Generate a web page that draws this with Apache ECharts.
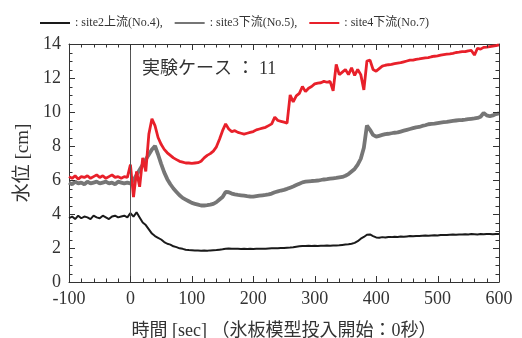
<!DOCTYPE html>
<html>
<head>
<meta charset="utf-8">
<script src="https://cdn.jsdelivr.net/npm/echarts@6/dist/echarts.min.js"></script>
<style>
  html, body { margin: 0; padding: 0; background: #fff; }
  #chart { width: 522px; height: 338px; }
</style>
</head>
<body>
<div id="chart"></div>
<script>
  // 時間軸（5秒ごと）
  const time = []
  for (let t = -100; t <= 600; t += 5) time.push(t)

  const seriesNames = ['site2上流(No.4)', 'site3下流(No.5)', 'site4下流(No.7)']

  // site2 上流 (No.4)
  const site2 = [
    3.75, 3.85, 3.7, 3.9, 3.75, 3.85, 3.8, 3.7, 3.9, 3.8,
    3.75, 3.9, 3.8, 3.7, 3.85, 3.9, 3.8, 3.85, 3.9, 3.8,
    4.05, 3.85, 4.1, 3.8, 3.5, 3.35, 3.1, 2.85, 2.7, 2.6,
    2.5, 2.35, 2.25, 2.2, 2.1, 2.05, 1.98, 1.95, 1.9, 1.88,
    1.87, 1.86, 1.85, 1.84, 1.85, 1.84, 1.86, 1.87, 1.88, 1.9,
    1.92, 1.95, 1.97, 1.95, 1.96, 1.95, 1.94, 1.95, 1.94, 1.95,
    1.94, 1.95, 1.96, 1.95, 1.96, 1.97, 1.98, 1.98, 1.99, 2.0,
    2.0, 2.02, 2.03, 2.05, 2.08, 2.1, 2.12, 2.12, 2.13, 2.12,
    2.13, 2.12, 2.13, 2.13, 2.14, 2.13, 2.14, 2.15, 2.16, 2.18,
    2.2, 2.22, 2.25, 2.3, 2.4, 2.55, 2.65, 2.78, 2.8, 2.7,
    2.62, 2.6, 2.64, 2.62, 2.65, 2.64, 2.66, 2.65, 2.67, 2.66,
    2.68, 2.7, 2.69, 2.71, 2.7, 2.72, 2.73, 2.72, 2.74, 2.75,
    2.74, 2.76, 2.77, 2.76, 2.78, 2.79, 2.78, 2.8, 2.79, 2.81,
    2.8, 2.82, 2.81, 2.8, 2.82, 2.81, 2.83, 2.82, 2.81, 2.83,
    2.82
  ]

  // site3 下流 (No.5)
  const site3 = [
    5.85, 5.75, 5.9, 5.8, 5.85, 5.75, 5.9, 5.8, 5.85, 5.9,
    5.8, 5.85, 5.9, 5.8, 5.85, 5.75, 5.9, 5.85, 5.8, 5.85,
    5.8, 6.0, 6.3, 6.6, 6.9, 7.2, 7.5, 7.8, 8.0, 7.5,
    6.95, 6.45, 6.05, 5.75, 5.5, 5.3, 5.1, 4.95, 4.85, 4.75,
    4.65, 4.6, 4.55, 4.5, 4.5, 4.52, 4.55, 4.6, 4.7, 4.85,
    5.0, 5.3, 5.28, 5.2, 5.15, 5.12, 5.1, 5.08, 5.05, 5.03,
    5.02, 5.05, 5.08, 5.1, 5.12, 5.15, 5.2, 5.28, 5.33, 5.38,
    5.42, 5.48, 5.55, 5.62, 5.7, 5.78, 5.86, 5.9, 5.92, 5.94,
    5.95, 5.97, 6.0, 6.03, 6.05, 6.08, 6.1, 6.12, 6.15, 6.18,
    6.25, 6.35, 6.5, 6.65, 6.9, 7.25, 7.9, 9.2, 8.95, 8.65,
    8.55, 8.6, 8.65, 8.7, 8.72, 8.75, 8.78, 8.8, 8.85, 8.9,
    8.95, 9.0, 9.05, 9.1, 9.12, 9.18, 9.22, 9.28, 9.3, 9.32,
    9.35, 9.38, 9.4, 9.42, 9.45, 9.48, 9.5, 9.52, 9.53, 9.55,
    9.58, 9.6, 9.62, 9.65, 9.72, 9.95, 9.8, 9.75, 9.8, 9.88,
    9.92
  ]

  // site4 下流 (No.7)
  const site4 = [
    6.2, 6.1, 6.25, 6.05, 6.2, 6.15, 6.25, 6.1, 6.2, 6.3,
    6.15, 6.25, 6.1, 6.2, 6.3, 6.15, 6.2, 6.1, 6.2, 6.15,
    6.9, 5.0, 6.5, 5.6, 7.3, 6.5, 8.7, 9.6, 9.2, 8.5,
    8.1, 7.8, 7.6, 7.45, 7.3, 7.2, 7.1, 7.05, 7.0, 7.0,
    6.98, 7.0, 7.02, 7.1, 7.3, 7.45, 7.55, 7.7, 7.95, 8.4,
    8.9, 9.3, 9.0, 8.85, 8.9, 8.8, 8.75, 8.7, 8.75, 8.8,
    8.85, 8.95, 9.0, 9.05, 9.1, 9.2, 9.3, 9.7, 9.5, 9.45,
    9.4, 9.35, 11.0, 10.6, 10.95, 11.1, 11.5, 11.2, 11.4, 11.5,
    11.65, 11.7, 11.72, 11.8, 11.75, 11.8, 11.25, 12.8, 12.2, 12.35,
    12.5, 12.2, 12.6, 12.15, 12.5, 12.2, 11.3, 13.0, 13.05, 12.5,
    12.4, 12.55, 12.7, 12.75, 12.78, 12.8, 12.85, 12.88, 12.9, 12.95,
    13.0, 13.05, 13.05, 13.1, 13.12, 13.15, 13.18, 13.2, 13.25, 13.28,
    13.3, 13.35, 13.38, 13.4, 13.42, 13.45, 13.5, 13.52, 13.55, 13.55,
    13.6, 13.62, 13.35, 13.75, 13.7, 13.8, 13.82, 13.85, 13.88, 13.9,
    13.95
  ]

  // 目盛り位置（x: 20秒ごと、y: 0.5cmごと）
  const xTicks = []
  for (let v = -80; v < 600; v += 20) xTicks.push(v)
  const yTicks = []
  for (let v = 0.5; v < 14; v += 0.5) yTicks.push(v)

  const colors = ['#1a1a1a', '#767676', '#e8202a']
  const widths = [2, 3.8, 2.8]
  const serif = '"Liberation Serif", "Noto Sans CJK JP", serif'

  const pairs = (values) => time.map((t, i) => [t, values[i]])

  const makeAxis = (min, max, interval) => ({
    type: 'value',
    min: min,
    max: max,
    interval: interval,
    splitLine: { show: false },
    axisLine: { show: true, onZero: false, lineStyle: { color: '#333' } },
    axisTick: { show: false }
  })

  const tickLine = (x1, y1, x2, y2) => ({
    type: 'line',
    shape: { x1: x1, y1: y1, x2: x2, y2: y2 },
    style: { stroke: '#333', lineWidth: 1 }
  })

  // 上下の内向き目盛り
  const renderXTick = (params, api) => {
    const v = api.value(0)
    const len = v % 100 === 0 ? 6 : 3.5
    const bottom = api.coord([v, 0])
    const top = api.coord([v, 14])
    const x = Math.round(bottom[0]) + 0.5
    return {
      type: 'group',
      children: [
        tickLine(x, bottom[1], x, bottom[1] - len),
        tickLine(x, top[1], x, top[1] + len)
      ]
    }
  }

  // 左右の内向き目盛り
  const renderYTick = (params, api) => {
    const v = api.value(1)
    const len = v % 2 === 0 ? 6 : 3.5
    const left = api.coord([-100, v])
    const right = api.coord([600, v])
    const y = Math.round(left[1]) + 0.5
    return {
      type: 'group',
      children: [
        tickLine(left[0], y, left[0] + len, y),
        tickLine(right[0], y, right[0] - len, y)
      ]
    }
  }

  const chart = echarts.init(document.getElementById('chart'))
  chart.setOption({
    animation: false,
    legend: {
      top: 12,
      left: 35,
      icon: 'rect',
      itemWidth: 30,
      itemHeight: 2,
      itemGap: 12,
      data: seriesNames.map((name, i) => ({
        name: name,
        itemStyle: { color: colors[i] }
      })),
      formatter: (name) => ': ' + name + (name === seriesNames[2] ? '' : ','),
      textStyle: { fontSize: 12, color: '#333', fontFamily: serif }
    },
    grid: { left: 69, right: 23, top: 44, bottom: 56, outerBoundsMode: 'none' },
    xAxis: [
      {
        ...makeAxis(-100, 600, 100),
        name: '時間 [sec] （氷板模型投入開始：0秒）',
        nameLocation: 'middle',
        nameGap: 40,
        nameTextStyle: { fontSize: 18, color: '#333', fontFamily: serif },
        axisLabel: { fontSize: 18, color: '#333', margin: 8, fontFamily: serif }
      },
      { ...makeAxis(-100, 600, 100), position: 'top', axisLabel: { show: false } }
    ],
    yAxis: [
      {
        ...makeAxis(0, 14, 2),
        name: '水位 [cm]',
        nameLocation: 'middle',
        nameGap: 36,
        nameTextStyle: { fontSize: 19, color: '#333', fontFamily: serif },
        axisLabel: { fontSize: 18, color: '#333', margin: 8, fontFamily: serif }
      },
      { ...makeAxis(0, 14, 2), position: 'right', axisLabel: { show: false } }
    ],
    graphic: [
      {
        type: 'text',
        left: 142,
        top: 60,
        style: {
          text: '実験ケース ： 11',
          fontSize: 18,
          fill: '#333',
          fontFamily: serif
        }
      }
    ],
    series: [
      ...[0, 1, 2].map((i) => ({
        name: seriesNames[i],
        type: 'line',
        symbol: 'none',
        data: pairs([site2, site3, site4][i]),
        lineStyle: { width: widths[i], color: colors[i] },
        itemStyle: { color: colors[i] },
        // 氷板投入時刻の縦線
        markLine: i === 0 ? {
          silent: true,
          symbol: 'none',
          label: { show: false },
          lineStyle: { color: '#555', width: 1, type: 'solid' },
          data: [{ xAxis: 0 }]
        } : undefined
      })),
      {
        type: 'custom',
        silent: true,
        clip: false,
        z: 5,
        renderItem: renderXTick,
        data: xTicks.map((v) => [v, 0])
      },
      {
        type: 'custom',
        silent: true,
        clip: false,
        z: 5,
        renderItem: renderYTick,
        data: yTicks.map((v) => [-100, v])
      }
    ]
  })
</script>
</body>
</html>
